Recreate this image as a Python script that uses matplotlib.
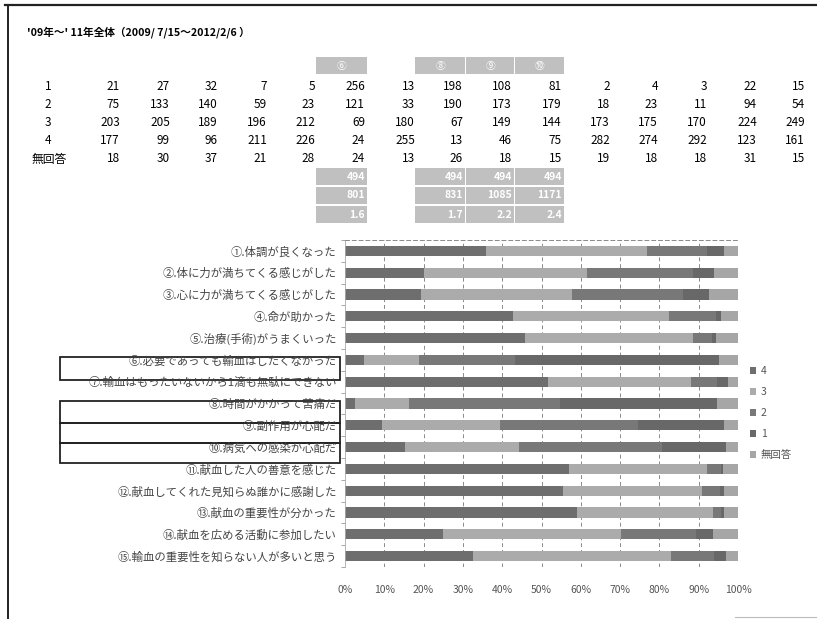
import matplotlib
matplotlib.use('Agg')
import matplotlib.pyplot as plt
from matplotlib.patches import Rectangle
import numpy as np

plt.rcParams['font.family'] = ['Noto Sans CJK JP', 'DejaVu Sans']

# counts per answer for the 15 items
row_1 = [21, 27, 32, 7, 5, 256, 13, 198, 108, 81, 2, 4, 3, 22, 15]
row_2 = [75, 133, 140, 59, 23, 121, 33, 190, 173, 179, 18, 23, 11, 94, 54]
row_3 = [203, 205, 189, 196, 212, 69, 180, 67, 149, 144, 173, 175, 170, 224, 249]
row_4 = [177, 99, 96, 211, 226, 24, 255, 13, 46, 75, 282, 274, 292, 123, 161]
row_na = [18, 30, 37, 21, 28, 24, 13, 26, 18, 15, 19, 18, 18, 31, 15]

# faded summary cells (items 6, 8, 9, 10)
summary_cols = [6, 8, 9, 10]
summary_head = ['⑥', '⑧', '⑨', '⑩']
summary_n = ['494', '494', '494', '494']
summary_sum = ['801', '831', '1085', '1171']
summary_avg = ['1.6', '1.7', '2.2', '2.4']

items = [
    '①.体調が良くなった',
    '②.体に力が満ちてくる感じがした',
    '③.心に力が満ちてくる感じがした',
    '④.命が助かった',
    '⑤.治療(手術)がうまくいった',
    '⑥.必要であっても輸血はしたくなかった',
    '⑦.輸血はもったいないから1滴も無駄にできない',
    '⑧.時間がかかって苦痛だ',
    '⑨.副作用が心配だ',
    '⑩.病気への感染が心配だ',
    '⑪.献血した人の善意を感じた',
    '⑫.献血してくれた見知らぬ誰かに感謝した',
    '⑬.献血の重要性が分かった',
    '⑭.献血を広める活動に参加したい',
    '⑮.輸血の重要性を知らない人が多いと思う',
]
title = "'09年～' 11年全体（2009/ 7/15～2012/2/6 ）"

W, H = 817, 619
fig = plt.figure(figsize=(W / 100, H / 100), dpi=100)

# page overlay in pixel coordinates
pg = fig.add_axes([0, 0, 1, 1])
pg.set_xlim(0, W)
pg.set_ylim(H, 0)
pg.axis('off')

pg.plot([5, W], [5, 5], color='#222222', lw=1.6)
pg.plot([8, 8], [5, H], color='#222222', lw=1.4)
pg.plot([735, W], [617, 617], color='#bbbbbb', lw=0.8)

pg.text(27, 32, title, fontsize=7.7, fontweight='bold', va='center', ha='left')

# table
col_x = [120, 170, 218, 267, 315, 365, 415, 463, 512, 562, 610, 658, 707, 757, 805]
row_y = [87, 105, 123, 141, 159]
row_names = ['1', '2', '3', '4', '無回答']
rows = [row_1, row_2, row_3, row_4, row_na]
for name, vals, y in zip(row_names, rows, row_y):
    if name == '無回答':
        pg.text(32, y, name, fontsize=8.5, va='center', ha='left')
    else:
        pg.text(48, y, name, fontsize=8.5, va='center', ha='center')
    for v, x in zip(vals, col_x):
        pg.text(x, y, str(v), fontsize=8.5, va='center', ha='right')

box_col = '#c0c0c0'
for i, c in enumerate(summary_cols):
    x1 = col_x[c - 1] + 3
    x0 = col_x[c - 2] + 3 if c != 8 else 415
    if c == 6:
        x0 = 316
    pg.add_patch(Rectangle((x0, 57), x1 - x0 - 1, 17, color=box_col, lw=0))
    pg.text((x0 + x1) / 2, 65.5, summary_head[i], fontsize=7, color='white',
            ha='center', va='center')
    for txt, yy in zip([summary_n[i], summary_sum[i], summary_avg[i]], [168, 187, 206]):
        pg.add_patch(Rectangle((x0, yy), x1 - x0 - 1, 17, color=box_col, lw=0))
        pg.text(x1 - 3, yy + 8.5, txt, fontsize=7.5, color='white',
                ha='right', va='center', fontweight='bold')

# chart
ax = fig.add_axes([345 / W, 1 - 567 / H, (738 - 345) / W, (567 - 240) / H])
data = np.array([row_4, row_3, row_2, row_1, row_na], dtype=float)
pct = data / data.sum(axis=0) * 100
series = ['4', '3', '2', '1', '無回答']
colors = ['#6e6e6e', '#ababab', '#787878', '#686868', '#a6a6a6']
y = np.arange(len(items))

for v in range(10, 101, 10):
    ax.axvline(v, color='#8a8a8a', lw=0.7, linestyle=(0, (4, 3)), zorder=1)

left = np.zeros(len(items))
for s, p, c in zip(series, pct, colors):
    ax.barh(y, p, left=left, height=0.46, color=c, label=s, zorder=2)
    left += p

ax.set_xlim(0, 100)
ax.set_ylim(len(items) - 0.5, -0.5)
ax.set_xticks(np.arange(0, 101, 10))
ax.set_xticklabels([f'{v}%' for v in range(0, 101, 10)], fontsize=7.5, color='#555555')
ax.tick_params(axis='x', length=0, pad=13)
ax.set_yticks(y)
ax.set_yticklabels(items, fontsize=8.2, color='#444444')
ax.tick_params(axis='y', length=0, pad=6)
ax.set_yticks(np.arange(-0.5, len(items), 1), minor=True)
ax.tick_params(axis='y', which='minor', length=3, color='#999999', width=0.6)
for side in ['right', 'bottom']:
    ax.spines[side].set_visible(False)
ax.spines['top'].set_linestyle((0, (4, 3)))
ax.spines['top'].set_color('#8a8a8a')
ax.spines['top'].set_linewidth(0.7)
ax.spines['left'].set_color('#aaaaaa')
ax.spines['left'].set_linewidth(0.6)

leg = ax.legend(loc='upper left', bbox_to_anchor=(745 / W, 1 - 361 / H),
                bbox_transform=fig.transFigure, frameon=False, fontsize=7.5,
                handlelength=0.6, handleheight=0.6, handletextpad=0.4,
                labelspacing=1.05, borderpad=0)
for t in leg.get_texts():
    t.set_color('#555555')

# outline boxes around labels 6, 8, 9, 10
for y0, y1 in [(357, 380), (401, 423), (423, 443), (443, 463)]:
    pg.add_patch(Rectangle((60, y0), 280, y1 - y0, fill=False,
                           edgecolor='#222222', lw=1.3))

fig.savefig('out.png', dpi=100)
